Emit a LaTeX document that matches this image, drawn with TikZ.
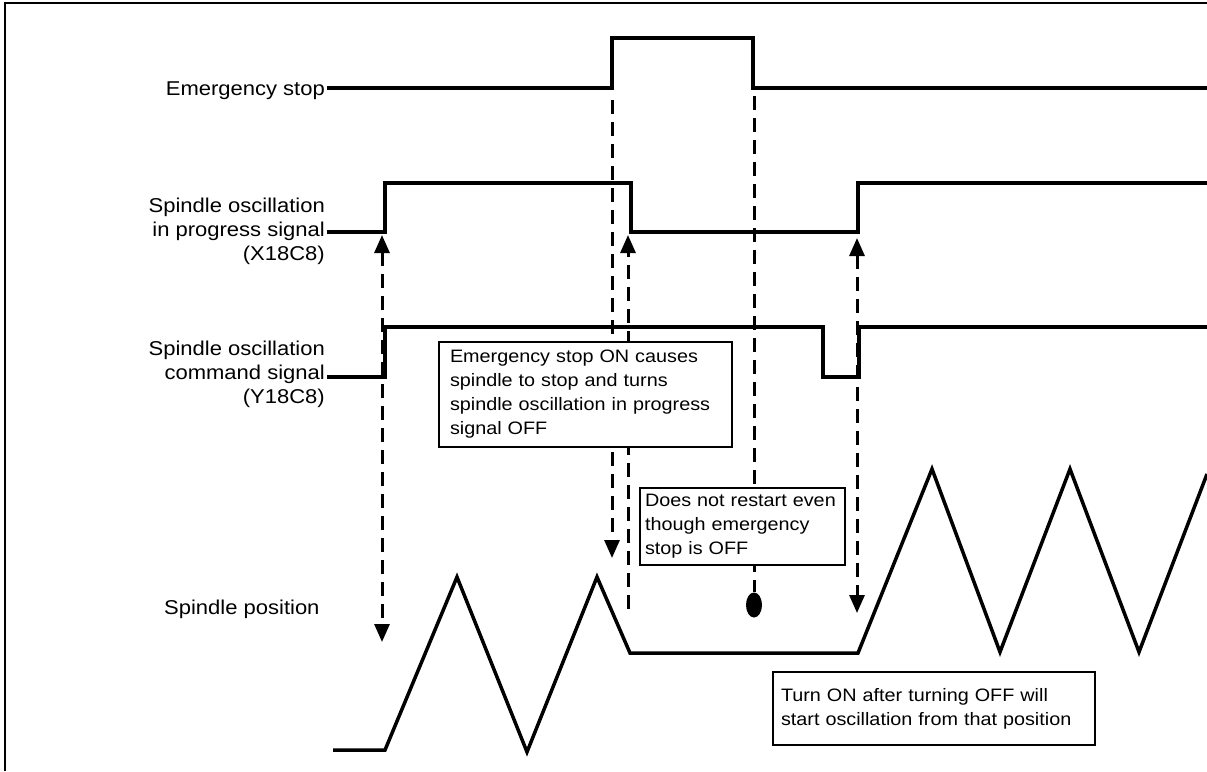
\documentclass[tikz,border=0pt]{standalone}
\usepackage{fontspec}
\setmainfont[FakeStretch=1.1]{Liberation Sans}
\usetikzlibrary{arrows.meta,shapes.geometric}
\begin{document}
\begin{tikzpicture}[x=1pt,y=-1pt,
  sig/.style={line width=4pt, line join=miter},
  wave/.style={line width=3.5pt, line join=miter},
  dsh/.style={line width=3pt, dash pattern=on 14pt off 8pt},
  tipend/.style={-{Triangle[length=18pt,width=15pt]}},
  tipboth/.style={{Triangle[length=18pt,width=15pt]}-{Triangle[length=18pt,width=15pt]}},
  note/.style={draw, line width=2pt, fill=white, align=left, font=\fontsize{18}{24}\selectfont},
  lbl/.style={font=\fontsize{20}{24}\selectfont, inner sep=1pt}]
\useasboundingbox (0,0) rectangle (1207,771);
% frame
\draw[line width=2.5pt] (5,771) -- (5,3) -- (1207,3);

% labels
\node[lbl, anchor=base east] (es) at (326,95) {Emergency stop};
\node[lbl, anchor=east, align=right] (ip) at (326,231) {Spindle oscillation\\in progress signal\\(X18C8)};
\node[lbl, anchor=east, align=right] (cmd) at (326,374) {Spindle oscillation\\command signal\\(Y18C8)};
\node[lbl, anchor=base west] (sp) at (163,614) {Spindle position};

% signal edge coordinates
\coordinate (es0) at (327,88);
\coordinate (esR) at (612,88);
\coordinate (esF) at (753,88);
\coordinate (ip0) at (327,232);
\coordinate (ipR) at (385,232);
\coordinate (ipF) at (631,232);
\coordinate (ipR2) at (858,232);
\coordinate (cm0) at (327,377);
\coordinate (cmR) at (385,377);
\coordinate (cmF) at (823,327);
\coordinate (cmR2) at (859,377);

% signals
\draw[sig] (es0) -- (esR) -- (612,38) -- (753,38) -- (esF) -- (1207,88);
\draw[sig] (ip0) -- (ipR) -- (385,183) -- (631,183) -- (ipF) -- (ipR2) -- (858,183) -- (1207,183);
\draw[sig] (cm0) -- (cmR) -- (385,327) -- (cmF) -- (823,377) -- (cmR2) -- (859,327) -- (1207,327);

% spindle position
\coordinate (p0) at (333,750);
\coordinate (p1) at (385,750);
\coordinate (p2) at (457,577);
\coordinate (p3) at (527,752);
\coordinate (p4) at (597,577);
\coordinate (p5) at (630,653);
\coordinate (p6) at (858,653);
\coordinate (p7) at (932,469);
\coordinate (p8) at (1000,652);
\coordinate (p9) at (1070,469);
\coordinate (p10) at (1139,652);
\coordinate (p11) at (1207,474);
\draw[wave] (p0) -- (p1) -- (p2) -- (p3) -- (p4) -- (p5) -- (p6) -- (p7) -- (p8) -- (p9) -- (p10) -- (p11);

% dashed connectors
\coordinate (a1top) at (382,235);
\coordinate (a1bot) at (382,642);
\draw[dsh, tipboth] (a1top) -- (a1bot);

\coordinate (esRd) at (612,100);
\coordinate (esRtip) at (612,558);
\draw[dsh, tipend] (esRd) -- (esRtip);

\coordinate (ipFbot) at (628,609);
\coordinate (ipFtip) at (628,235);
\draw[dsh, tipend] (ipFbot) -- (ipFtip);

\node[ellipse, fill, inner sep=0pt, minimum width=16pt, minimum height=25pt] (dot) at (754,605) {};
\coordinate (esFd) at (754,96);
\draw[dsh] (esFd) -- (dot.north);

\coordinate (a3top) at (857,238);
\coordinate (a3bot) at (857,613);
\draw[dsh, tipboth] (a3top) -- (a3bot);

% notes
\node[note, text width=271pt, inner xsep=11pt, minimum height=105pt] (n1) at (585.5,394.5)
  {Emergency stop ON causes\\spindle to stop and turns\\spindle oscillation in progress\\signal OFF};
\node[note, text width=195pt, inner xsep=5pt, minimum height=77pt] (n2) at (742.5,526.5)
  {Does not restart even\\though emergency\\stop is OFF};
\node[note, text width=306pt, inner xsep=8pt, minimum height=73pt] (n3) at (934,708.5)
  {Turn ON after turning OFF will\\start oscillation from that position};
\end{tikzpicture}
\end{document}
